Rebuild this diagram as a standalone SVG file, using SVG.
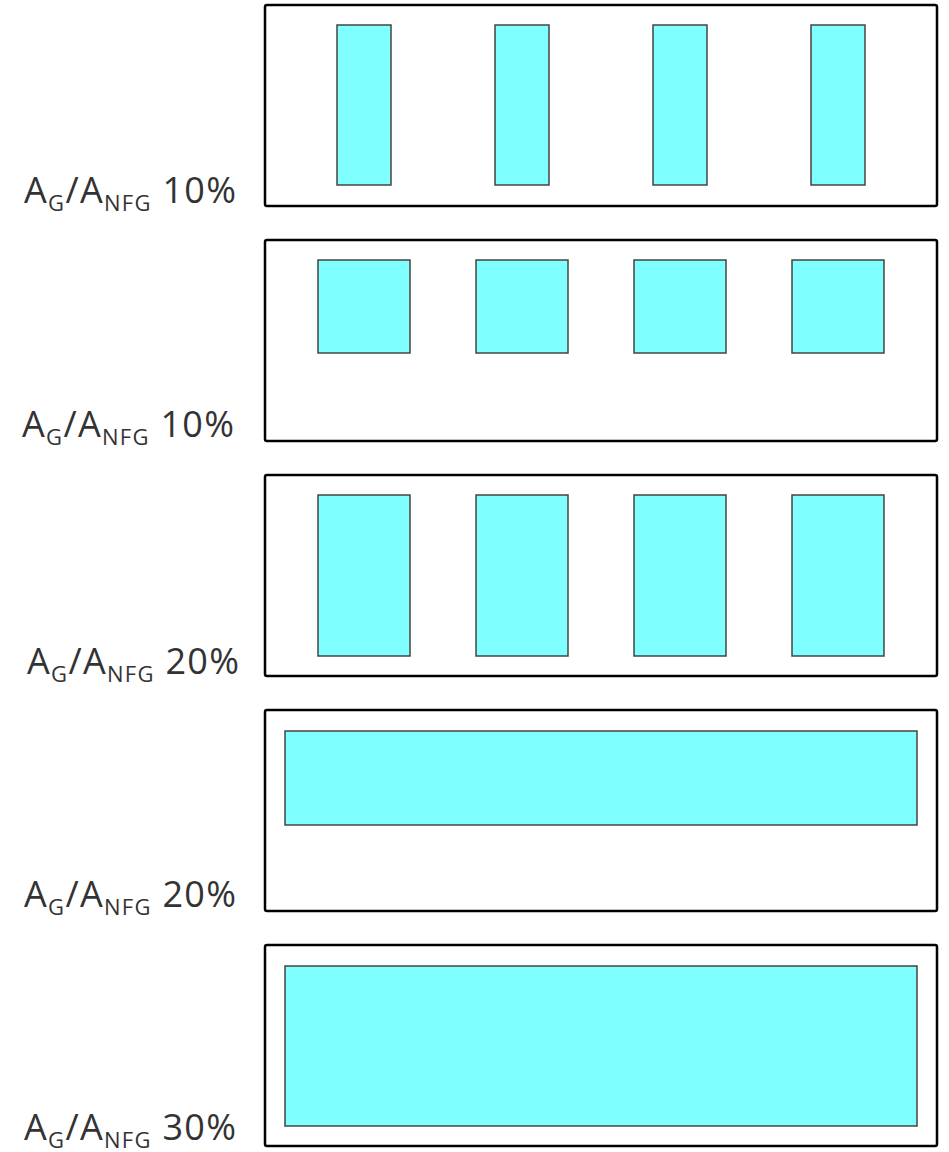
<svg xmlns="http://www.w3.org/2000/svg" width="949" height="1152" viewBox="0 0 949 1152">
  <style>
    .frame { fill: #ffffff; stroke: #000000; stroke-width: 2.5; }
    .cell { fill: #7fffff; stroke: #444444; stroke-width: 1.5; }
    .lbl { font-family: "Open Sans", "Liberation Sans", sans-serif; font-size: 36px; letter-spacing: 1.3px; fill: #333333; }
    .sub { font-size: 22px; }
  </style>
  <rect width="949" height="1152" fill="#ffffff"/>

  <!-- panel 1: narrow tall cells -->
  <g id="panel1">
    <rect class="frame" x="265" y="5" width="672" height="201" rx="2"/>
    <rect class="cell" x="337" y="25" width="54" height="160"/>
    <rect class="cell" x="495" y="25" width="54" height="160"/>
    <rect class="cell" x="653" y="25" width="54" height="160"/>
    <rect class="cell" x="811" y="25" width="54" height="160"/>
    <text class="lbl" x="24" y="203">A<tspan class="sub" dy="8">G</tspan><tspan dy="-8">/A</tspan><tspan class="sub" dy="8">NFG</tspan><tspan dy="-8"> 10%</tspan></text>
  </g>

  <!-- panel 2: square cells along top -->
  <g id="panel2">
    <rect class="frame" x="265" y="240" width="672" height="201" rx="2"/>
    <rect class="cell" x="318" y="260" width="92" height="93"/>
    <rect class="cell" x="476" y="260" width="92" height="93"/>
    <rect class="cell" x="634" y="260" width="92" height="93"/>
    <rect class="cell" x="792" y="260" width="92" height="93"/>
    <text class="lbl" x="22" y="437">A<tspan class="sub" dy="8">G</tspan><tspan dy="-8">/A</tspan><tspan class="sub" dy="8">NFG</tspan><tspan dy="-8"> 10%</tspan></text>
  </g>

  <!-- panel 3: wide tall cells -->
  <g id="panel3">
    <rect class="frame" x="265" y="475" width="672" height="201" rx="2"/>
    <rect class="cell" x="318" y="495" width="92" height="161"/>
    <rect class="cell" x="476" y="495" width="92" height="161"/>
    <rect class="cell" x="634" y="495" width="92" height="161"/>
    <rect class="cell" x="792" y="495" width="92" height="161"/>
    <text class="lbl" x="27" y="674">A<tspan class="sub" dy="8">G</tspan><tspan dy="-8">/A</tspan><tspan class="sub" dy="8">NFG</tspan><tspan dy="-8"> 20%</tspan></text>
  </g>

  <!-- panel 4: single strip along top -->
  <g id="panel4">
    <rect class="frame" x="265" y="710" width="672" height="201" rx="2"/>
    <rect class="cell" x="285" y="731" width="632" height="94"/>
    <text class="lbl" x="24" y="907">A<tspan class="sub" dy="8">G</tspan><tspan dy="-8">/A</tspan><tspan class="sub" dy="8">NFG</tspan><tspan dy="-8"> 20%</tspan></text>
  </g>

  <!-- panel 5: single full-height block -->
  <g id="panel5">
    <rect class="frame" x="265" y="945" width="672" height="201" rx="2"/>
    <rect class="cell" x="285" y="966" width="632" height="160"/>
    <text class="lbl" x="24" y="1140">A<tspan class="sub" dy="8">G</tspan><tspan dy="-8">/A</tspan><tspan class="sub" dy="8">NFG</tspan><tspan dy="-8"> 30%</tspan></text>
  </g>

  <g id="connectors"/>
</svg>
